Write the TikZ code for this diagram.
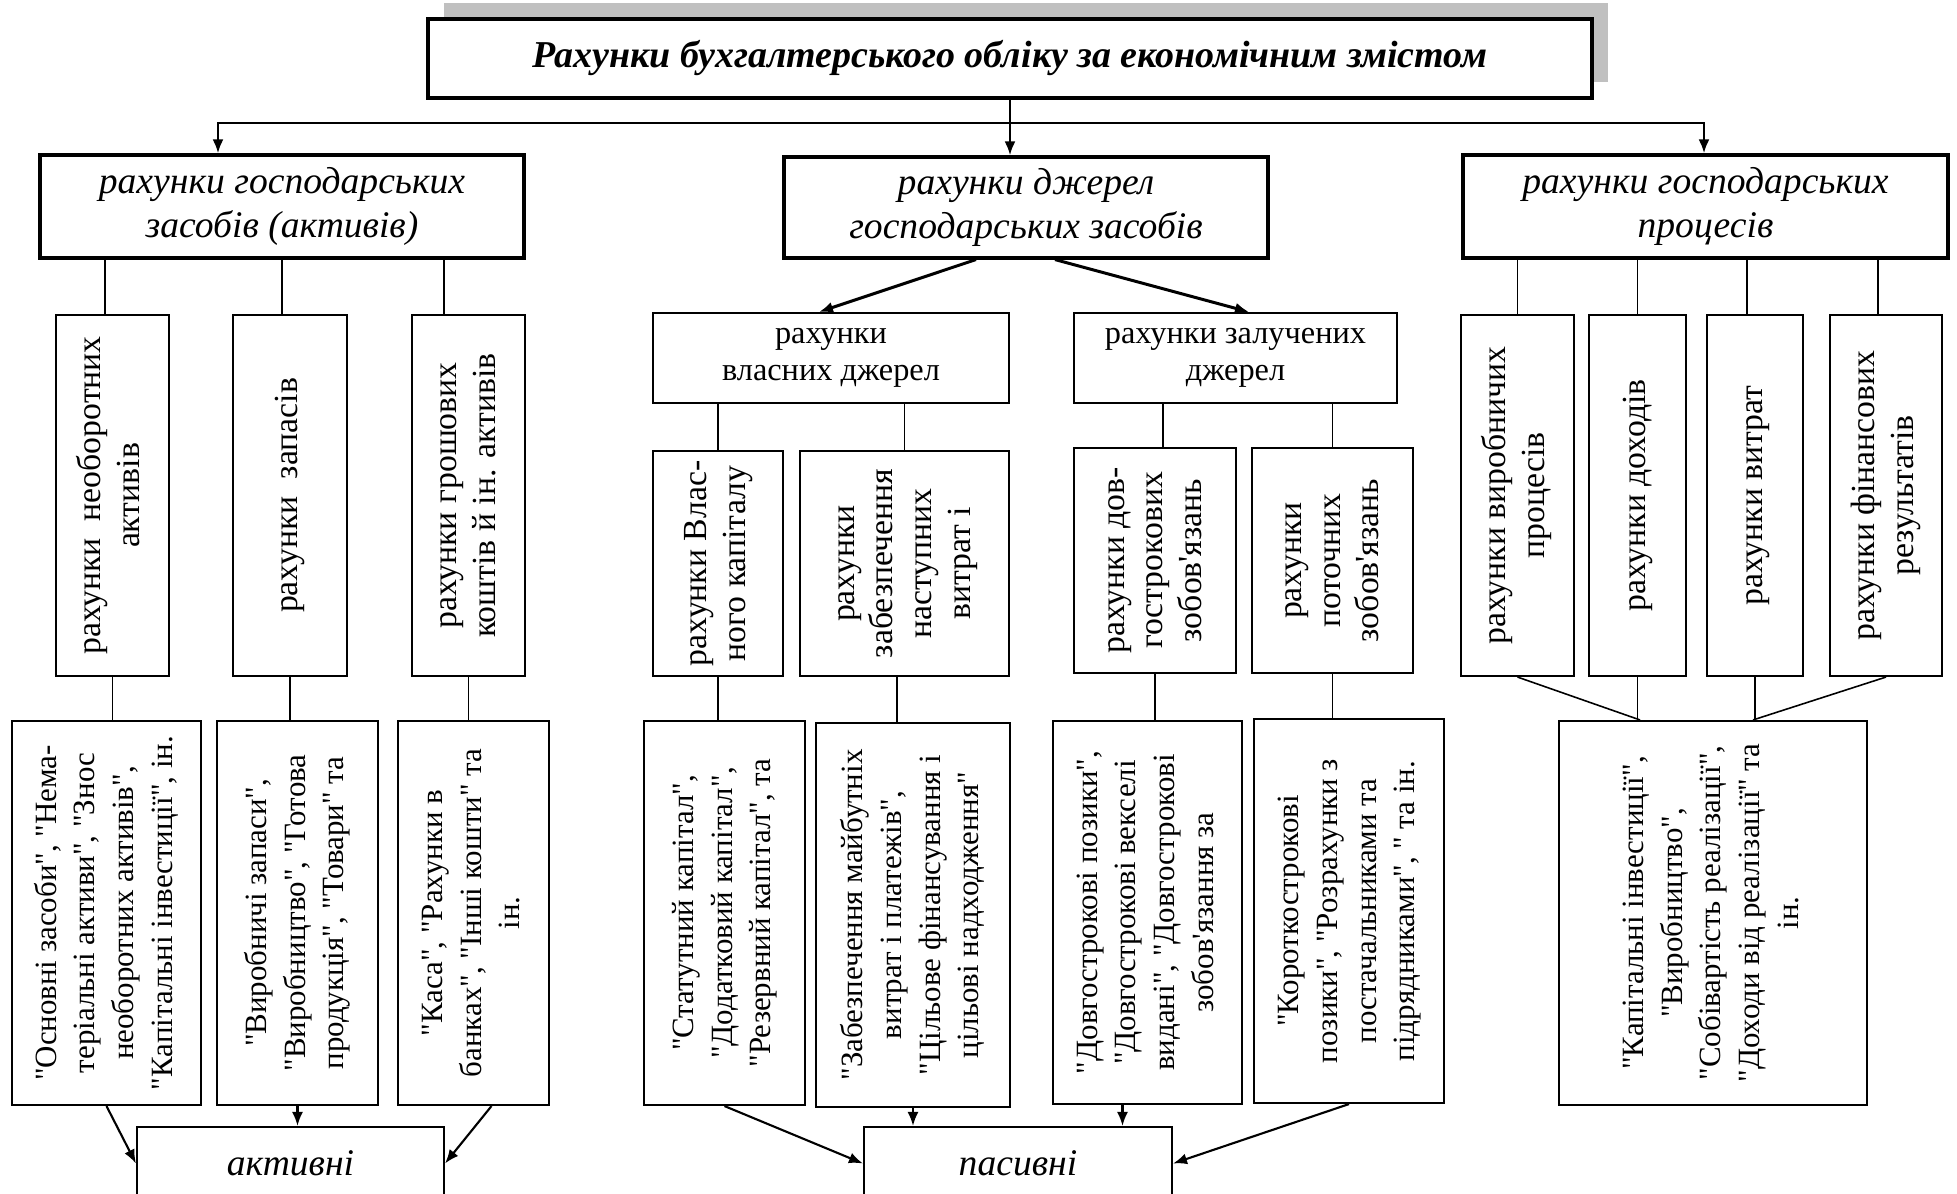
\documentclass[tikz,border=0pt]{standalone}
\usepackage{fontspec}
\setmainfont{Liberation Serif}[Ligatures=TeXOff]
\usepackage{graphicx}
\usetikzlibrary{arrows.meta}
\usetikzlibrary{shadows}
\definecolor{shadowgrey}{HTML}{C0C0C0}
% text turned on its side, lines centred
\newcommand{\vtext}[1]{\rotatebox{90}{\begin{tabular}{@{}c@{}}#1\end{tabular}}}
\tikzset {
  % plain framed box
  box/.style = {draw, line width=0.6pt, inner sep=0pt, fill=white},
  size/.style 2 args = {minimum width=#1, minimum height=#2},
  % the title with its grey shadow
  titlebox/.style = {box, line width=0.9pt, drop shadow={shadow xshift=1.6mm, shadow yshift=1.6mm, fill=shadowgrey, opacity=1}, font=\fontsize{10.8}{13}\selectfont\bfseries\itshape},
  % the three main groups
  headbox/.style = {box, line width=0.9pt, align=center, font=\fontsize{10.7}{12.5}\selectfont\itshape},
  % own / borrowed sources
  groupbox/.style = {box, align=center, font=\fontsize{9.2}{10.5}\selectfont},
  % kinds of accounts (vertical text)
  kindbox/.style = {box, font=\fontsize{9.6}{11}\selectfont},
  % lists of accounts (vertical text)
  listbox/.style = {box, font=\fontsize{8.8}{11}\selectfont},
  % active / passive
  resbox/.style = {box, font=\fontsize{10.7}{12.5}\selectfont\itshape},
  link/.style = {line width=0.45pt},
  bus/.style = {line width=0.75pt},
  flow/.style = {->, line width=0.6pt},
  >={Latex[length=1.4mm, width=1.1mm]},
}
\begin{document}
\begin{tikzpicture}[x=0.1mm, y=-0.1mm]
  \useasboundingbox (0,0) rectangle (1957,1194);

  \node[titlebox, size={116.4mm}{7.9mm}] (title) at (1010,58.5) {Рахунки бухгалтерського обліку за економічним змістом};

  \node[headbox, size={48.4mm}{10.3mm}] (assets) at (282,206.5) {рахунки господарських\\засобів (активів)};
  \node[headbox, size={48.4mm}{10.1mm}] (sources) at (1026,207.5) {рахунки джерел\\господарських засобів};
  \node[headbox, size={48.5mm}{10.3mm}] (procs) at (1705.5,206.5) {рахунки господарських\\процесів};

  \coordinate (busL) at (218,123);
  \coordinate (busR) at (1704,123);
  \draw[bus] (title.south) -- (title.south |- busL);
  \draw[bus, <->] (busL |- assets.north) -- (busL) -- (busR) -- (busR |- procs.north);
  \draw[bus, ->] (title.south |- busL) -- (title.south |- sources.north);

  % assets
  \node[kindbox, size={11.3mm}{36.1mm}] (fixed) at (112.5,495.5) {\vtext{рахунки\ \ необоротних\\активів}};
  \node[kindbox, size={11.4mm}{36.1mm}] (stock) at (290,495.5) {\vtext{рахунки\ \ запасів}};
  \node[kindbox, size={11.3mm}{36.1mm}] (cash) at (468.5,495.5) {\vtext{рахунки грошових\\коштів й ін. активів}};

  \draw[link] ([xshift=-0.75mm]fixed.north) -- ([xshift=-0.75mm]fixed.north |- assets.south);
  \draw[link] ([xshift=-0.8mm]stock.north) -- ([xshift=-0.8mm]stock.north |- assets.south);
  \draw[link] ([xshift=-2.45mm]cash.north) -- ([xshift=-2.45mm]cash.north |- assets.south);

  \node[listbox, size={18.9mm}{38.4mm}] (fixedl) at (106.5,913) {\vtext{"Основні засоби", "Нема-\\теріальні активи", "Знос\\необоротних активів",\\"Капітальні інвестиції", ін.}};
  \node[listbox, size={16.1mm}{38.4mm}] (stockl) at (297.5,913) {\vtext{"Виробничі запаси",\\"Виробництво", "Готова\\продукція", "Товари" та}};
  \node[listbox, size={15.1mm}{38.4mm}] (cashl) at (473.5,913) {\vtext{"Каса", "Рахунки в\\банках", "Інші кошти" та\\ін.}};

  \draw[link] (fixed.south) -- (fixed.south |- fixedl.north);
  \draw[link] (stock.south) -- (stock.south |- stockl.north);
  \draw[link] (cash.south) -- (cash.south |- cashl.north);

  \node[resbox, size={30.7mm}{7.3mm}] (active) at (290.5,1163.5) {активні};
  \draw[flow] (fixedl.south) -- (active.west);
  \draw[flow] (stockl.south) -- (stockl.south |- active.north);
  \draw[flow] ([xshift=1.8mm]cashl.south) -- (active.east);

  % sources
  \node[groupbox, size={35.6mm}{9mm}] (own) at (831,358) {рахунки\\власних джерел};
  \node[groupbox, size={32.3mm}{9mm}] (borrowed) at (1235.5,358) {рахунки залучених\\джерел};
  \draw[flow, line width=0.85pt] ([xshift=-5mm]sources.south) -- ([xshift=-1.2mm]own.north);
  \draw[flow, line width=0.85pt] ([xshift=2.9mm]sources.south) -- ([xshift=1.35mm]borrowed.north);

  \node[kindbox, size={13mm}{22.5mm}] (equity) at (718,563.5) {\vtext{рахунки Влас-\\ного капіталу}};
  \node[kindbox, size={20.9mm}{22.5mm}] (provis) at (904.5,563.5) {\vtext{рахунки\\забезпечення\\наступних\\витрат і}};
  \node[kindbox, size={16.2mm}{22.5mm}] (longterm) at (1155,560.5) {\vtext{рахунки дов-\\гострокових\\зобов'язань}};
  \node[kindbox, size={16.1mm}{22.5mm}] (current) at (1332.5,560.5) {\vtext{рахунки\\поточних\\зобов'язань}};

  \draw[link] (equity.north) -- (equity.north |- own.south);
  \draw[link] (provis.north) -- (provis.north |- own.south);
  \draw[link] ([xshift=0.8mm]longterm.north) -- ([xshift=0.8mm]longterm.north |- borrowed.south);
  \draw[link] (current.north) -- (current.north |- borrowed.south);

  \node[listbox, size={16.1mm}{38.4mm}] (equityl) at (724.5,913) {\vtext{"Статутний капітал",\\"Додатковий капітал",\\"Резервний капітал", та}};
  \node[listbox, size={19.4mm}{38.4mm}] (provisl) at (913,915) {\vtext{"Забезпечення майбутніх\\витрат і платежів",\\"Цільове фінансування і\\цільові надходження"}};
  \node[listbox, size={18.9mm}{38.3mm}] (longterml) at (1147.5,912.5) {\vtext{"Довгострокові позики",\\"Довгострокові векселі\\видані", "Довгострокові\\зобов'язання за}};
  \node[listbox, size={19mm}{38.4mm}] (currentl) at (1349,911) {\vtext{"Короткострокові\\позики", "Розрахунки з\\постачальниками та\\підрядниками", " та ін.}};

  \draw[link] (equity.south) -- (equity.south |- equityl.north);
  \draw[link] ([xshift=-0.75mm]provis.south) -- ([xshift=-0.75mm]provis.south |- provisl.north);
  \draw[link] (longterm.south) -- (longterm.south |- longterml.north);
  \draw[link] (current.south) -- (current.south |- currentl.north);

  \node[resbox, size={30.8mm}{7.3mm}] (passive) at (1018,1163.5) {пасивні};
  \draw[flow] (equityl.south) -- (passive.west);
  \draw[flow] (provisl.south) -- (provisl.south |- passive.north);
  \draw[flow] ([xshift=-2.5mm]longterml.south) -- ([xshift=-2.5mm]longterml.south |- passive.north);
  \draw[flow] (currentl.south) -- (passive.east);

  % processes
  \node[kindbox, size={11.3mm}{36.1mm}] (prod) at (1517.5,495.5) {\vtext{рахунки виробничих\\процесів}};
  \node[kindbox, size={9.7mm}{36.1mm}] (income) at (1637.5,495.5) {\vtext{рахунки доходів}};
  \node[kindbox, size={9.6mm}{36.1mm}] (costs) at (1755,495.5) {\vtext{рахунки витрат}};
  \node[kindbox, size={11.2mm}{36.1mm}] (results) at (1886,495.5) {\vtext{рахунки фінансових\\результатів}};

  \draw[link] (prod.north) -- (prod.north |- procs.south);
  \draw[link] (income.north) -- (income.north |- procs.south);
  \draw[link] ([xshift=-0.8mm]costs.north) -- ([xshift=-0.8mm]costs.north |- procs.south);
  \draw[link] ([xshift=-0.8mm]results.north) -- ([xshift=-0.8mm]results.north |- procs.south);

  \node[listbox, size={30.8mm}{38.4mm}] (procl) at (1713,913) {\vtext{"Капітальні інвестиції",\\"Виробництво",\\"Собівартість реалізації",\\"Доходи від реалізації" та\\ін.}};

  \draw[link] (prod.south) -- ([xshift=-7.3mm]procl.north);
  \draw[link] (income.south) -- (income.south |- procl.north);
  \draw[link] (costs.south) -- (costs.south |- procl.north);
  \draw[link] (results.south) -- ([xshift=4mm]procl.north);
\end{tikzpicture}
\end{document}
